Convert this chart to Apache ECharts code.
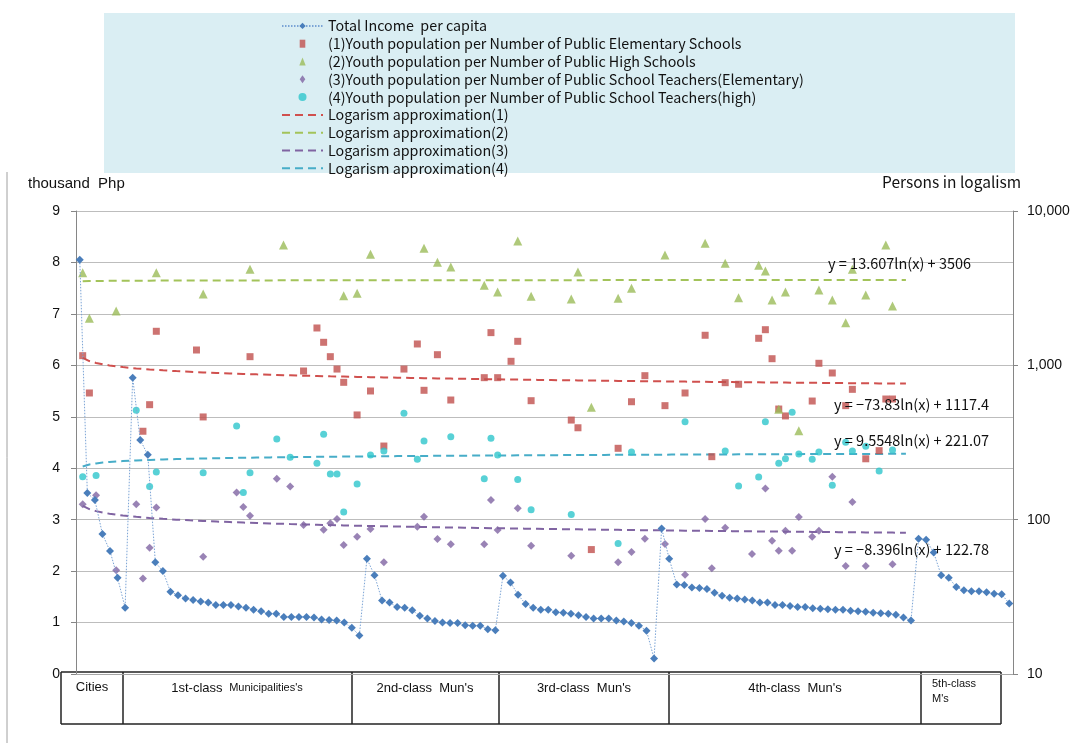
<!DOCTYPE html>
<html>
<head>
<meta charset="utf-8">
<script src="https://cdn.jsdelivr.net/npm/echarts@6/dist/echarts.min.js"></script>
<style>
  html, body { margin: 0; padding: 0; background: #ffffff; }
  #chart { width: 1077px; height: 743px; }
</style>
</head>
<body>
<div id="chart"></div>
<script>
// Total income per capita (thousand Php), grouped by LGU class, ordered as in the ranking
const incomeCities = [8.05, 3.52, 3.38, 2.72, 2.39, 1.87, 1.29];
const income1st = [5.76, 4.55, 4.26, 2.17, 2.00, 1.60, 1.53, 1.47, 1.44, 1.41, 1.39, 1.34, 1.34, 1.34, 1.31, 1.29,
  1.25, 1.22, 1.17, 1.17, 1.11, 1.11, 1.11, 1.11, 1.10, 1.06, 1.05, 1.04, 1.00, 0.90, 0.75];
const income2nd = [2.24, 1.92, 1.43, 1.39, 1.30, 1.29, 1.24, 1.13, 1.08, 1.03, 1.00, 0.99, 0.99, 0.95, 0.94, 0.94, 0.87, 0.85];
const income3rd = [1.91, 1.78, 1.54, 1.36, 1.29, 1.25, 1.25, 1.20, 1.19, 1.17, 1.14, 1.11, 1.08, 1.08, 1.08, 1.04,
  1.02, 0.99, 0.94, 0.84, 0.30];
const income4th = [2.83, 2.24, 1.74, 1.73, 1.68, 1.67, 1.65, 1.58, 1.52, 1.48, 1.47, 1.45, 1.43, 1.39, 1.39, 1.34,
  1.34, 1.32, 1.30, 1.30, 1.28, 1.27, 1.26, 1.25, 1.25, 1.23, 1.22, 1.21, 1.19, 1.18, 1.17, 1.15, 1.10, 1.04];
const income5th = [2.63, 2.61, 2.36, 1.92, 1.87, 1.69, 1.63, 1.61, 1.61, 1.59, 1.56, 1.55, 1.37];

// Youth population ratios, [rank number, persons]
const perElemSchool = [[1,1155],[2,662],[10,374],[11,556],[12,1662],[18,1257],[19,463],[26,1138],[34,919],[36,1746],
  [37,1410],[38,1138],[39,946],[40,776],[42,477],[44,682],[46,300],[49,946],[51,1375],[52,689],[54,1172],[56,596],
  [61,832],[62,1629],[63,832],[65,1062],[66,1431],[68,590],[74,442],[75,394],[77,64],[81,290],[83,581],[85,857],
  [88,548],[91,662],[94,1566],[95,256],[97,772],[99,754],[102,1497],[103,1702],[104,1104],[105,521],[106,470],
  [110,587],[111,1031],[113,892],[115,548],[116,699],[118,248],[120,280],[121,605],[122,605]];
const perHighSchool = [[1,3985],[2,2018],[6,2250],[12,3985],[19,2898],[26,4191],[31,6025],[40,2827],[42,2930],[44,5240],
  [52,5730],[54,4655],[56,4337],[61,3302],[63,2987],[66,6394],[68,2800],[74,2691],[75,4027],[77,535],[81,2718],
  [83,3156],[88,5188],[94,6180],[97,4584],[99,2742],[102,4449],[103,4085],[104,2651],[105,519],[106,2987],[108,377],
  [111,3077],[113,2651],[115,1889],[116,4191],[118,2856],[121,6025],[122,2425]];
const perElemTeacher = [[1,126],[3,144],[6,47],[9,126],[10,41.5],[11,65.8],[12,120],[19,57.5],[24,150],[25,121],
  [26,106],[30,184],[32,164],[34,92.3],[37,86.1],[38,94.7],[39,101],[40,68.5],[42,77.6],[44,87],[46,53],[51,90],
  [52,104.5],[54,75],[56,69.2],[61,69.2],[62,134],[63,85.7],[66,118.5],[68,67.8],[74,58.4],[81,53],[83,61.7],
  [85,75.3],[88,69.6],[91,44],[94,101],[95,48.4],[97,88.7],[101,60],[103,159],[104,73.1],[105,63],[106,84.9],
  [107,63],[108,104],[110,77.6],[111,84.9],[113,190],[115,50.1],[116,130],[118,50.1],[122,51.4]];
const perHighTeacher = [[1,190],[3,193],[9,511],[11,164],[12,204],[19,201],[24,404],[25,150],[26,201],[30,333],
  [32,254],[36,232],[37,357],[38,198],[39,198],[40,112],[42,170],[44,262],[46,279],[49,489],[51,246],[52,323],
  [56,345],[61,184],[62,337],[63,262],[66,182],[68,116],[74,108],[81,70],[83,274],[91,431],[97,279],[99,165],
  [102,189],[103,431],[105,232],[106,248],[107,496],[108,266],[110,246],[111,274],[113,167],[115,317],[116,279],
  [118,299],[120,207],[122,283]];

// Logarithmic fits y = a*ln(x) + b over ranks 1..124
const fit1 = { a: -73.83, b: 1117.4 };
const fit2 = { a: 13.607, b: 3506 };
const fit3 = { a: -8.396, b: 122.78 };
const fit4 = { a: 9.5548, b: 221.07 };
const fitCount = 124;

const groupLabels = ['Cities', '1st-class', '2nd-class  Mun\'s', '3rd-class  Mun\'s', '4th-class  Mun\'s', '5th-class'];

const income = [].concat(incomeCities, income1st, income2nd, income3rd, income4th, income5th);
const categories = income.map((_, i) => String(i + 1));

function fitLine(f) {
  const pts = [];
  for (let x = 1; x <= fitCount; x++) pts.push([x, f.a * Math.log(x) + f.b]);
  return pts;
}
function fitText(f) {
  const sign = f.a < 0 ? '\u2212' : '';
  return 'y = ' + sign + Math.abs(f.a) + 'ln(x) + ' + f.b;
}

const sansJP = '"Noto Sans CJK JP", "Noto Sans", sans-serif';
const sansAx = '"Liberation Sans", Arial, sans-serif';

const C = {
  income: '#4A7EBB', incomeLine: '#7BA4D6',
  red: '#C0504D', green: '#9BBB59', purple: '#8064A2', cyan: '#2EC5CC',
  redFit: '#D0504E', greenFit: '#A3C35A', purpleFit: '#8064A2', cyanFit: '#47ADC8'
};

const chart = echarts.init(document.getElementById('chart'), null, { renderer: 'canvas' });

const names = {
  income: 'Total Income  per capita',
  s1: '(1)Youth population per Number of Public Elementary Schools',
  s2: '(2)Youth population per Number of Public High Schools',
  s3: '(3)Youth population per Number of Public School Teachers(Elementary)',
  s4: '(4)Youth population per Number of Public School Teachers(high)',
  f1: 'Logarism approximation(1)',
  f2: 'Logarism approximation(2)',
  f3: 'Logarism approximation(3)',
  f4: 'Logarism approximation(4)'
};

// small legend glyphs (path icons keep their aspect ratio)
const iconSquare = 'path://M0,0L0.7,0L0.7,1L0,1Z';
const iconTriangle = 'path://M0.4,0L0.8,1L0,1Z';
const iconDiamond = 'path://M0.35,0L0.7,0.5L0.35,1L0,0.5Z';
const iconDot = 'path://M0.4,0A0.4,0.4,0,1,1,0.3999,0Z';

function fitSeries(name, f, color) {
  return {
    name, type: 'line', xAxisIndex: 1, yAxisIndex: 1, data: fitLine(f),
    symbol: 'none', smooth: false, z: 1, silent: true,
    lineStyle: { color, width: 2, type: [8, 5] }, itemStyle: { color }
  };
}

// class boxes under the axis
const boxTop = 672, boxBottom = 724;
const boxEdges = [61, 123, 352, 499, 669, 921, 1001];
const tableGraphics = [];
tableGraphics.push({ type: 'line', shape: { x1: boxEdges[0], y1: boxTop, x2: boxEdges[6], y2: boxTop }, style: { stroke: '#222', lineWidth: 1.5 } });
tableGraphics.push({ type: 'line', shape: { x1: boxEdges[0], y1: boxBottom, x2: boxEdges[6], y2: boxBottom }, style: { stroke: '#222', lineWidth: 1.5 } });
boxEdges.forEach(x => tableGraphics.push({ type: 'line', shape: { x1: x, y1: boxTop, x2: x, y2: boxBottom }, style: { stroke: '#222', lineWidth: 1.5 } }));
const boxText = (x, y, text, size, align) => ({
  type: 'text', x, y,
  style: { text, fill: '#111', font: size + 'px ' + sansAx, textAlign: align || 'center', textVerticalAlign: 'middle' }
});
tableGraphics.push(boxText(92, 687, groupLabels[0], 13));
tableGraphics.push({
  type: 'text', x: 237, y: 688,
  style: {
    text: '{a|' + groupLabels[1] + '}  {b|Municipalities\'s}', textAlign: 'center', textVerticalAlign: 'middle',
    rich: { a: { font: '13px ' + sansAx, fill: '#111' }, b: { font: '11px ' + sansAx, fill: '#111' } }
  }
});
tableGraphics.push(boxText(425, 688, groupLabels[2], 13));
tableGraphics.push(boxText(584, 688, groupLabels[3], 13));
tableGraphics.push(boxText(795, 688, groupLabels[4], 13));
tableGraphics.push(boxText(932, 684, groupLabels[5], 11, 'left'));
tableGraphics.push(boxText(932, 699, 'M\'s', 11, 'left'));

const hiddenMarker = { opacity: 0 };

const option = {
  animation: false,
  backgroundColor: '#ffffff',
  grid: { left: 76, right: 64, top: 211, bottom: 69, containLabel: false },
  legend: {
    orient: 'vertical', left: 281, top: 17, padding: 0,
    itemWidth: 41, itemHeight: 8, itemGap: 0,
    textStyle: { fontFamily: sansJP, fontSize: 14.3, color: '#111', lineHeight: 17.8 },
    data: [
      { name: names.income },
      { name: names.s1, icon: iconSquare },
      { name: names.s2, icon: iconTriangle },
      { name: names.s3, icon: iconDiamond },
      { name: names.s4, icon: iconDot },
      { name: names.f1, itemStyle: hiddenMarker },
      { name: names.f2, itemStyle: hiddenMarker },
      { name: names.f3, itemStyle: hiddenMarker },
      { name: names.f4, itemStyle: hiddenMarker }
    ],
    selectedMode: false
  },
  xAxis: [
    {
      type: 'category', data: categories, boundaryGap: true,
      axisLine: { show: true, lineStyle: { color: '#a6a6a6', width: 1 } },
      axisTick: { show: false }, axisLabel: { show: false }, splitLine: { show: false }
    },
    {
      type: 'value', min: 0, max: 140, show: false, position: 'bottom'
    }
  ],
  yAxis: [
    {
      type: 'value', min: 0, max: 9, interval: 1, position: 'left',
      axisLine: { show: true, lineStyle: { color: '#868686', width: 1 } },
      axisTick: { show: true, length: 5, inside: false, lineStyle: { color: '#868686' } },
      axisLabel: { margin: 16, fontFamily: sansAx, fontSize: 14, color: '#111' },
      splitLine: { show: true, lineStyle: { color: '#bdbdbd', width: 1.2 } }
    },
    {
      type: 'log', logBase: 10, min: 10, max: 10000, position: 'right',
      axisLine: { show: true, lineStyle: { color: '#868686', width: 1 } },
      axisTick: { show: true, length: 5, lineStyle: { color: '#868686' } },
      axisLabel: { margin: 14, fontFamily: sansAx, fontSize: 14, color: '#111',
        formatter: v => Number(v).toLocaleString('en-US') },
      splitLine: { show: false }
    }
  ],
  series: [
    {
      name: names.income, type: 'line', xAxisIndex: 0, yAxisIndex: 0, data: income,
      symbol: 'diamond', symbolSize: 8, showAllSymbol: true, z: 5,
      itemStyle: { color: C.income },
      lineStyle: { color: C.incomeLine, width: 1, type: [1.5, 1.5] }
    },
    {
      name: names.s1, type: 'scatter', xAxisIndex: 1, yAxisIndex: 1, data: perElemSchool,
      symbol: 'rect', symbolSize: 7, z: 3, itemStyle: { color: C.red }
    },
    {
      name: names.s2, type: 'scatter', xAxisIndex: 1, yAxisIndex: 1, data: perHighSchool,
      symbol: 'triangle', symbolSize: 9, z: 4, itemStyle: { color: C.green }
    },
    {
      name: names.s3, type: 'scatter', xAxisIndex: 1, yAxisIndex: 1, data: perElemTeacher,
      symbol: 'diamond', symbolSize: 8, z: 3, itemStyle: { color: C.purple }
    },
    {
      name: names.s4, type: 'scatter', xAxisIndex: 1, yAxisIndex: 1, data: perHighTeacher,
      symbol: 'circle', symbolSize: 7, z: 3, itemStyle: { color: C.cyan }
    },
    fitSeries(names.f1, fit1, C.redFit),
    fitSeries(names.f2, fit2, C.greenFit),
    fitSeries(names.f3, fit3, C.purpleFit),
    fitSeries(names.f4, fit4, C.cyanFit)
  ],
  graphic: [
    // legend panel
    { type: 'rect', z: -10, shape: { x: 104, y: 13, width: 911, height: 160 }, style: { fill: '#DAEEF3' } },
    // outer frame edge on the left
    { type: 'line', shape: { x1: 7, y1: 172, x2: 7, y2: 743 }, style: { stroke: '#a0a0a0', lineWidth: 1 } },
    { type: 'text', x: 28, y: 184, style: { text: 'thousand  Php', font: '15px ' + sansAx, fill: '#111', textVerticalAlign: 'middle' } },
    { type: 'text', x: 882, y: 182, style: { text: 'Persons in logalism', font: '15.5px ' + sansJP, fill: '#111', textVerticalAlign: 'middle' } },
    { type: 'text', x: 828, y: 263, z: 20, style: { text: fitText(fit2), font: '14.5px ' + sansJP, fill: '#111', textVerticalAlign: 'middle' } },
    { type: 'text', x: 834, y: 404, z: 20, style: { text: fitText(fit1), font: '14.5px ' + sansJP, fill: '#111', textVerticalAlign: 'middle' } },
    { type: 'text', x: 834, y: 440, z: 20, style: { text: fitText(fit4), font: '14.5px ' + sansJP, fill: '#111', textVerticalAlign: 'middle' } },
    { type: 'text', x: 834, y: 549, z: 20, style: { text: fitText(fit3), font: '14.5px ' + sansJP, fill: '#111', textVerticalAlign: 'middle' } }
  ].concat(tableGraphics)
};

chart.setOption(option);
</script>
</body>
</html>
